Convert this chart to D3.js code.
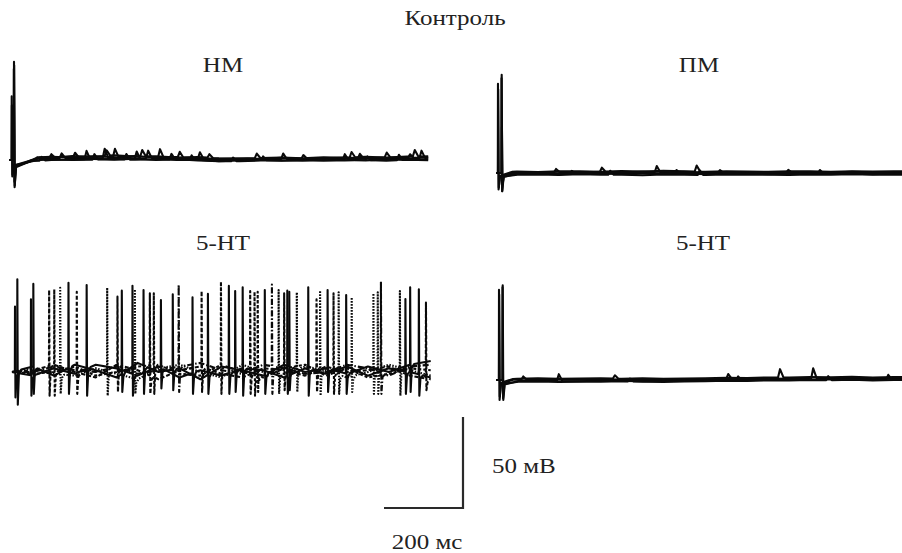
<!DOCTYPE html>
<html lang="ru">
<head>
<meta charset="UTF-8">
<title>Контроль</title>
<script src="https://d3js.org/d3.v7.min.js"></script>
<style>
  body { margin: 0; background: #fff; }
  text { font-family: "Liberation Serif", "DejaVu Serif", serif; fill: #222; }
</style>
</head>
<body>
<svg width="902" height="553"></svg>
<script>
// ---- data (ms / mV) ----
const traceEnd = 1060;
const baseTimes = d3.range(0, traceEnd + 1, 53); // baseline sample times

// НМ, control
const nmBase = [
  [0, 0.5, 1.0, 1.2, 0.8, 1.5, 1.0, 1.2, 0.6, 0.8, 0.2, 0.0, 0.4, 0.6, 0.5, 0.8, 0.6, 1.0, 0.8, 1.0, 1.2],
  [0, -0.6, 0.0, 0.3, 0.6, 0.2, 0.7, 0.0, 0.5, -0.2, -0.6, -0.3, 0.0, -0.4, 0.1, -0.2, 0.2, -0.2, 0.3, 0.0, 0.4],
  [0, 1.2, 1.8, 1.4, 2.0, 1.6, 2.2, 1.4, 1.6, 0.9, 0.6, 0.8, 0.6, 1.2, 0.7, 1.0, 1.4, 0.9, 1.6, 1.1, 1.4],
  [0, -0.2, 0.3, 0.0, 0.2, 0.6, 0.1, 0.4, 0.0, 0.1, -0.6, -0.7, -0.3, -0.2, -0.4, -0.1, -0.3, 0.0, -0.4, 0.1, -0.1],
  [0, 1.5, 1.2, 2.2, 1.7, 2.6, 1.9, 2.1, 1.4, 1.6, 0.9, 0.8, 1.1, 1.4, 0.9, 1.5, 1.2, 1.8, 1.3, 1.9, 2.0]
];
// [time, peak, undershoot, ahp, recovery]
const nmEvoked = [[11.4, 54, -15, -3.5, 60], [5.6, 35, -9, -3, 55], [11, 50, -12, -4, 65], [6, 30, -8, -3, 50], [11.8, 52, -14, -3.5, 60]];
const nmEpsps = [
  [[132, 2.5], [241, 5], [351, 4], [482, 3.5], [693, 3], [887, 2.5], [1043, 4]],
  [[81, 2], [195, 4.5], [322, 4], [410, 3], [642, 2], [849, 3]],
  [[166, 2.5], [267, 4.5], [381, 4.5], [431, 3], [744, 2], [955, 2.5], [1014, 2]],
  [[70, 1.5], [215, 3], [296, 3], [461, 2.5], [566, 2], [906, 2], [986, 3]],
  [[106, 2], [246, 3], [336, 3.5], [506, 2], [626, 2.5], [866, 3], [1026, 3.5]]
];

// ПМ, control
const pmBase = [
  [0, 0.3, 0.0, 0.5, 0.2, 0.6, 0.3, 0.8, 0.4, 0.6, 0.2, 0.5, 0.3, 0.4, 0.2, 0.5, 0.3, 0.6, 0.4, 0.5, 0.3],
  [0, -0.5, -0.3, -0.6, -0.2, -0.5, -0.4, -0.1, -0.5, -0.3, -0.6, -0.2, -0.4, -0.6, -0.3, -0.5, -0.2, -0.4, -0.6, -0.3, -0.5],
  [0, 0.8, 0.5, 0.9, 1.0, 0.7, 1.1, 0.8, 1.2, 0.9, 0.7, 1.0, 0.8, 0.6, 0.9, 1.0, 0.7, 0.9, 0.8, 1.0, 0.8],
  [0, -1.0, -0.8, -1.1, -0.7, -1.0, -0.9, -1.2, -0.8, -1.0, -1.1, -0.8, -1.0, -0.9, -1.1, -0.8, -1.0, -0.7, -1.0, -0.9, -1.1],
  [0, 0.0, 0.2, -0.2, 0.1, -0.1, 0.3, 0.0, -0.2, 0.2, 0.0, 0.1, -0.1, 0.2, 0.0, -0.2, 0.1, 0.0, 0.2, -0.1, 0.0]
];
const pmEvoked = [[5, 49, -9, -2, 35], [14.4, 54, -10, -2, 40], [5.5, 46, -8, -1.5, 35], [14, 52, -10, -2, 40], [15, 25, -6, -1.5, 35]];
const pmEpsps = [
  [[152, 1.8], [407, 3.3], [740, 1.5]],
  [[192, 1.5], [457, 2], [820, 2]],
  [[268, 2.2], [508, 3.3]],
  [[289, 2.2], [516, 2.5]],
  [[567, 1.5]]
];

// НМ + 5-HT
const htLeftBase = [
  [0, 3, -2, 4, 1, -3, 5, 0, 2, -4, 3, 1, -2, 4, 0, 2, -1, 3, 0, 4, 6],
  [0, -2, 2, -1, 4, 2, -2, 3, -3, 1, -2, 2, 1, -3, 2, -1, 3, -2, 2, 0, -3],
  [0, 1, 4, 0, -3, 4, 1, -4, 1, 3, -1, -3, 2, 1, -2, 3, 0, 1, 3, -2, -4],
  [0, -1, 0, 3, -2, 0, 3, 4, -1, -2, 4, 0, -3, 2, 4, -2, 2, -3, -1, 2, 1],
  [0, 2, -1, -2, 2, -1, -4, 2, 4, 0, -3, 4, 0, -1, 3, 1, -3, 0, 4, 1, -2],
  [0, 0, 3, 1, 0, 3, -1, 1, 3, 5, 1, -1, 4, 2, -1, 0, 4, 2, -2, 3, 4]
];
// [time, peak, undershoot]
const htLeftSpikes = [
  [[13.5, 51, -18], [54, 48.4, -12], [143, 49, -12], [278, 44.7, -11], [333, 45, -12], [407, 42.7, -10], [496, 42.9, -12],
   [565, 44.5, -11], [640, 45, -12], [702, 44.1, -10], [799, 45, -11], [846, 42.3, -12], [1008, 46.5, -11]],
  [[7.6, 36, -14], [48, 40, -13], [189, 47.8, -13], [305, 47.4, -13], [377, 39.6, -9], [457, 41, -12], [549, 47.3, -12],
   [584, 46.5, -13], [697, 44.7, -12], [750, 46.5, -13], [996, 40.1, -12], [1030, 45.4, -13]],
  [[94, 45, -13], [164, 44.1, -12], [267, 41.4, -11], [349, 43.2, -12], [480, 44.5, -11], [603, 44.5, -12],
   [689, 43.2, -10], [771, 39.9, -11], [1048, 38.1, -10]],
  [[107, 45.4, -13], [359, 43.2, -12], [529, 49.6, -12], [614, 44.1, -13], [622, 44.1, -11], [814, 43.2, -12]],
  [[122, 46.3, -12], [241, 46.3, -13], [311, 45.4, -12], [675, 45, -12], [721, 43.8, -11], [780, 44.7, -13],
   [827, 43.8, -12], [860, 41, -11], [915, 43.2, -12], [926, 43.8, -12], [982, 44.5, -13]],
  [[422, 48, -11], [658, 48, -12], [934, 49.6, -12]]
];
const htLeftDash = ["none", "none", "4,2", "3,2", "1.5,1.5", "6,2,1.5,2"];

// ПМ + 5-HT
const htRightBase = [
  [0, 0.2, 0.0, 0.3, 0.1, 0.4, 0.2, 0.3, 0.0, 0.2, 0.4, 0.6, 0.5, 0.8, 0.6, 0.9, 1.0, 0.8, 1.0, 0.9, 1.1],
  [0, -0.6, -0.4, -0.5, -0.7, -0.3, -0.5, -0.6, -0.4, -0.5, -0.2, 0.0, -0.1, 0.2, 0.1, 0.3, 0.4, 0.2, 0.5, 0.3, 0.4],
  [0, 0.7, 0.9, 0.6, 0.8, 1.0, 0.7, 0.9, 0.6, 0.8, 1.0, 1.2, 1.1, 1.4, 1.3, 1.6, 1.5, 1.7, 1.4, 1.6, 1.8],
  [0, -1.0, -0.8, -1.1, -0.9, -1.0, -0.7, -0.9, -1.1, -0.8, -0.6, -0.4, -0.5, -0.2, -0.3, 0.0, -0.1, 0.1, -0.2, 0.0, 0.2]
];
const htRightEvoked = [[7.6, 49.5, -11, -2, 35], [17, 52, -11, -2.5, 40], [8, 47, -9, -1.5, 35], [16.5, 51, -10, -2, 40]];
const htRightEpsps = [
  [[69, 1.8], [588, 2.7], [803, 5.5]],
  [[159, 3.7], [613, 2], [993, 2.5]],
  [[301, 1.8], [719, 4.6]],
  [[339, 1.5], [841, 2.2]]
];

const scaleBarMv = 50, scaleBarMs = 200;

// ---- layout ----
const pxPerMs = 79 / 200, pxPerMv = 91 / 50;
const fontSize = 20, stretch = 1.25;
const svg = d3.select("svg");

const panels = [
  { title: "НМ", tx: 223, ty: 72, x0: 9.5, y0: 160, base: nmBase, evoked: nmEvoked, epsps: nmEpsps },
  { title: "ПМ", tx: 699, ty: 72, x0: 496, y0: 173, base: pmBase, evoked: pmEvoked, epsps: pmEpsps },
  { title: "5-HT", tx: 223, ty: 250, x0: 12, y0: 372, base: htLeftBase, spikes: htLeftSpikes, dash: htLeftDash },
  { title: "5-HT", tx: 703, ty: 250, x0: 496, y0: 380, base: htRightBase, evoked: htRightEvoked, epsps: htRightEpsps }
];

function sweepPoints(base, evoked, epsps, spikes) {
  const baseAt = d3.scaleLinear().domain(baseTimes).range(base).clamp(true);
  const pts = [];
  const windows = [];
  if (evoked) {
    const [t, peak, under, ahp, rec] = evoked;
    pts.push([0, base[0]], [t - 0.4, base[0]], [t, peak], [t + 1.5, under], [t + 5, ahp], [t + rec, baseAt(t + rec)]);
    windows.push([0, t + rec]);
  }
  (epsps || []).forEach(([t, a]) => {
    pts.push([t - 5, baseAt(t - 5)], [t, baseAt(t) + a], [t + 9, baseAt(t + 9)]);
    windows.push([t - 5, t + 9]);
  });
  (spikes || []).forEach(([t, peak, under]) => {
    pts.push([t - 0.4, baseAt(t - 0.4)], [t, peak], [t + 1.2, under], [t + 4, baseAt(t + 4) - 2], [t + 10, baseAt(t + 10)]);
    windows.push([t - 0.4, t + 10]);
  });
  baseTimes.forEach((t, i) => {
    if (!windows.some(w => t >= w[0] && t <= w[1])) pts.push([t, base[i]]);
  });
  return pts.sort((a, b) => a[0] - b[0]);
}

function label(txt, x, y, anchor) {
  svg.append("text")
    .attr("transform", `translate(${x},${y}) scale(${stretch},1)`)
    .attr("text-anchor", anchor)
    .attr("font-size", fontSize)
    .text(txt);
}

panels.forEach(p => {
  const x = d3.scaleLinear().domain([0, traceEnd]).range([p.x0, p.x0 + traceEnd * pxPerMs]);
  const y = d3.scaleLinear().domain([0, 50]).range([p.y0, p.y0 - 50 * pxPerMv]);
  const line = d3.line().x(d => x(d[0])).y(d => y(d[1]));

  const g = svg.append("g");
  p.base.forEach((b, i) => {
    const pts = sweepPoints(b, p.evoked ? p.evoked[i] : null, p.epsps ? p.epsps[i] : null, p.spikes ? p.spikes[i] : null);
    g.append("path")
      .attr("d", line(pts))
      .attr("fill", "none")
      .attr("stroke", "#0a0a0a")
      .attr("stroke-width", 2.1)
      .attr("stroke-linejoin", "round")
      .attr("stroke-dasharray", p.dash ? p.dash[i] : "none");
  });

  label(p.title, p.tx, p.ty, "middle");
});

label("Контроль", 455, 25, "middle");

// scale bar
const sbX = d3.scaleLinear().domain([0, scaleBarMs]).range([384, 384 + scaleBarMs * pxPerMs]);
const sbY = d3.scaleLinear().domain([0, scaleBarMv]).range([508, 508 - scaleBarMv * pxPerMv]);
svg.append("path")
  .attr("d", d3.line().x(d => sbX(d[0])).y(d => sbY(d[1]))([[0, 0], [scaleBarMs, 0], [scaleBarMs, scaleBarMv]]))
  .attr("fill", "none")
  .attr("stroke", "#2a2a2a")
  .attr("stroke-width", 2.2);

label(`${scaleBarMv} мВ`, 492, 473, "start");
label(`${scaleBarMs} мс`, 427, 549, "middle");
</script>
</body>
</html>
